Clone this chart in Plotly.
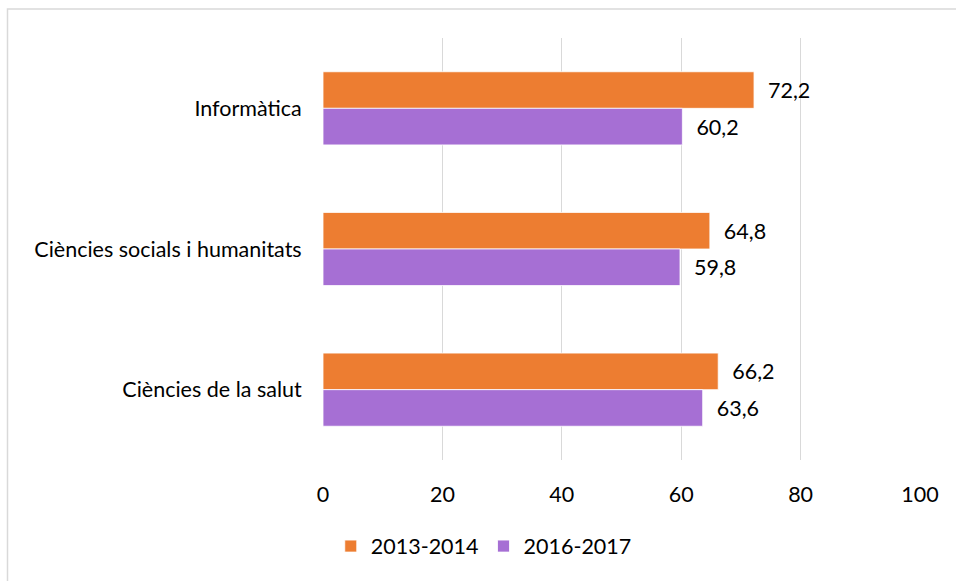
import plotly.graph_objects as go

categories = ['Informàtica', 'Ciències socials i humanitats', 'Ciències de la salut']
vals_2013 = [72.2, 64.8, 66.2]
vals_2016 = [60.2, 59.8, 63.6]
series_names = ['2013-2014', '2016-2017']
x_ticks = [0, 20, 40, 60, 80, 100]

FONT = 'Lato'
FS = 21.5
ORANGE = '#ED7D31'
PURPLE = '#A66FD4'

fig = go.Figure()
for name, vals, col in [(series_names[0], vals_2013, ORANGE),
                        (series_names[1], vals_2016, PURPLE)]:
    fig.add_trace(go.Bar(
        y=categories, x=vals, name=name, orientation='h',
        marker=dict(color=col, line=dict(color='white', width=0.8)),
        texttemplate='\u00a0\u00a0%{x:.1f}', textposition='outside',
        textfont=dict(family=FONT, size=FS, color='#000000'),
        cliponaxis=False,
    ))

# chart frame: only top and left edges fall inside the picture
fig.add_shape(type='rect', xref='paper', yref='paper',
              x0=(7.5 - 323) / 597, x1=650 / 597,
              y0=-140 / 422, y1=(460 - 9) / 422,
              line=dict(color='#D9D9D9', width=1.5))

fig.update_layout(
    width=956, height=581,
    barmode='group', bargap=0.48, bargroupgap=0,
    separators=',.',
    paper_bgcolor='white', plot_bgcolor='white',
    margin=dict(l=323, r=36, t=38, b=121),
    font=dict(family=FONT, size=FS, color='#000000'),
    xaxis=dict(range=[0, 100], tickvals=x_ticks, showgrid=True,
               gridcolor='#D9D9D9', gridwidth=1.3, zeroline=False,
               showline=False, ticks='outside', ticklen=15,
               tickcolor='rgba(0,0,0,0)'),
    yaxis=dict(autorange='reversed', showgrid=False, showline=False,
               ticks='outside', ticklen=16, tickcolor='rgba(0,0,0,0)'),
    legend=dict(orientation='h', x=0.013, xanchor='left', y=-0.204,
                yanchor='middle', font=dict(size=FS), itemwidth=30,
                traceorder='normal'),
)

fig.write_html('out.html', config={'displayModeBar': False},
               post_script="document.body.style.margin='0';")
